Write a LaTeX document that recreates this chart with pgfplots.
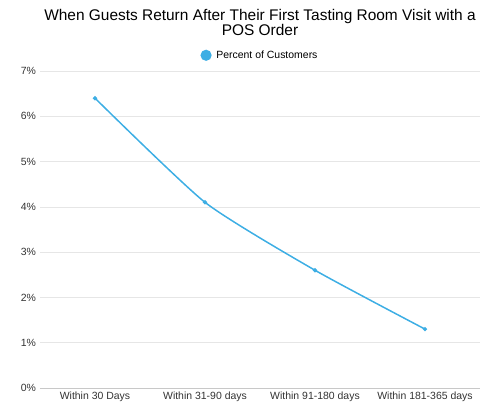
\documentclass[border=0pt]{standalone}
\usepackage{fontspec}
\setmainfont{Liberation Sans}
\usepackage{pgfplots}
\pgfplotsset{compat=1.18}
\usetikzlibrary{calc}
\definecolor{lineblue}{HTML}{3DAEE4}
\definecolor{gridgray}{HTML}{E6E6E6}
\definecolor{axisgray}{HTML}{C8C8C8}
\definecolor{labelgray}{HTML}{333333}
\begin{document}
\begin{tikzpicture}
\begin{axis}[
  name=ax, at={(0,0)}, anchor=south west,
  scale only axis, width=440bp, height=317bp,
  xmin=-0.5, xmax=3.5, ymin=0, ymax=7,
  xtick={0,1,2,3},
  xticklabels={Within 30 Days,Within 31-90 days,Within 91-180 days,Within 181-365 days},
  ytick={0,1,...,7},
  yticklabel={\pgfmathprintnumber{\tick}\%},
  /pgf/number format/assume math mode=true,
  tick label style={font=\fontsize{10.5}{11}\selectfont, text=labelgray},
  major tick length=0pt,
  axis line style={draw=none},
  ymajorgrids, grid style={gridgray, line width=0.6pt},
  xticklabel style={yshift=-0.5bp},
  yticklabel style={xshift=-0.5bp},
  title={When Guests Return After Their First Tasting Room Visit with a\\POS Order},
  title style={align=center, font=\fontsize{15.5}{15}\selectfont, yshift=26bp},
  legend style={at={(0.5,1)}, anchor=south, yshift=7bp, draw=none, fill=none,
    font=\fontsize{10.5}{11}\selectfont},
  legend image code/.code={\fill[lineblue] (0,0) circle (4.8bp);
    \path (7.5bp,0);},
  clip=false,
]
\draw[axisgray, line width=0.7pt] (axis cs:-0.5,0) -- (axis cs:3.5,0);
\addplot[lineblue, line width=1.5pt, smooth, tension=0.35, mark=*, mark size=1.3pt,
  mark options={fill=lineblue, draw=lineblue}]
  coordinates {(0,6.4) (1,4.1) (2,2.6) (3,1.3)};
\addlegendentry{Percent of Customers}
\end{axis}
\pgfresetboundingbox
\path ($(ax.south west)+(-40bp,-22bp)$) rectangle ($(ax.north east)+(6bp,71bp)$);
\end{tikzpicture}
\end{document}
